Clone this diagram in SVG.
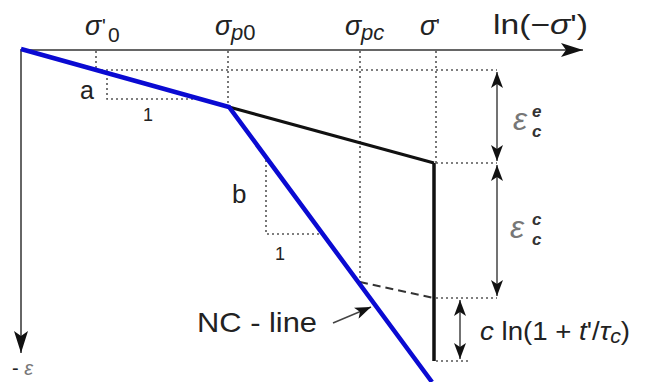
<svg xmlns="http://www.w3.org/2000/svg" width="646" height="382" viewBox="0 0 646 382">
<defs>
<style>
.t{font-family:"Liberation Sans",Arial,sans-serif;fill:#222}
.it{font-style:italic}
.g{fill:#777}
.b{font-weight:bold;fill:#333}
.dot{stroke:#555;stroke-width:1.6;stroke-dasharray:2 3;fill:none}
.ax{stroke:#666;stroke-width:2;fill:none}
.dim{stroke:#444;stroke-width:1.5;fill:none}
</style>
<marker id="ah" viewBox="0 0 16 12" refX="16" refY="6" markerWidth="16" markerHeight="12" markerUnits="userSpaceOnUse" orient="auto-start-reverse">
<path d="M0,0 L16,6 L0,12 L4,6 Z" fill="#111"/>
</marker>
<marker id="axh" viewBox="0 0 22 14" refX="22" refY="7" markerWidth="22" markerHeight="14" markerUnits="userSpaceOnUse" orient="auto">
<path d="M0,0 L22,7 L0,14 L5,7 Z" fill="#111"/>
</marker>
</defs>
<rect width="646" height="382" fill="#fff"/>

<g id="axes">
<line class="ax" x1="20" y1="50" x2="583" y2="50" marker-end="url(#axh)"/>
<line class="ax" x1="21" y1="49" x2="21" y2="353" marker-end="url(#axh)"/>
</g>

<g id="guides">
<line class="dot" x1="96" y1="51" x2="96" y2="70"/>
<line class="dot" x1="228" y1="51" x2="228" y2="107"/>
<line class="dot" x1="360" y1="51" x2="360" y2="282"/>
<line class="dot" x1="436" y1="51" x2="436" y2="163"/>
<line class="dot" x1="96" y1="70" x2="497" y2="70"/>
<line class="dot" x1="436" y1="163" x2="497" y2="163"/>
<line class="dot" x1="436" y1="298" x2="497" y2="298"/>
<line class="dot" x1="436" y1="361" x2="471" y2="361"/>
<polyline class="dot" points="107,73 107,99 200,99"/>
<polyline class="dot" points="266,160 266,234 322,234"/>
</g>

<g id="curves">
<polyline points="229,107 434,163" stroke="#111" stroke-width="3" fill="none"/>
<line x1="434" y1="163" x2="434" y2="361" stroke="#111" stroke-width="3.5"/>
<line x1="360" y1="282" x2="434" y2="298" stroke="#333" stroke-width="2" stroke-dasharray="8 5"/>
<polyline points="21,49 229,107 432,382" stroke="#0a0ad2" stroke-width="4.5" fill="none" stroke-linejoin="miter"/>
</g>

<g id="connectors">
<line class="dim" x1="497" y1="72" x2="497" y2="161" marker-start="url(#ah)" marker-end="url(#ah)"/>
<line class="dim" x1="497" y1="165" x2="497" y2="296" marker-start="url(#ah)" marker-end="url(#ah)"/>
<line class="dim" x1="460" y1="300" x2="460" y2="359" marker-start="url(#ah)" marker-end="url(#ah)"/>
<line class="dim" x1="333" y1="323" x2="371" y2="307" marker-end="url(#ah)"/>
</g>

<g id="labels">
<text class="t it" x="85" y="35" font-size="27">σ<tspan font-style="normal" font-size="20" x="102" y="33">'</tspan><tspan font-style="normal" font-size="21" x="108" y="42">0</tspan></text>
<text class="t it" x="215" y="35" font-size="27">σ<tspan font-size="22" x="231" y="40">p</tspan><tspan font-style="normal" font-size="22">0</tspan></text>
<text class="t it" x="345" y="35" font-size="27">σ<tspan font-size="22" x="361" y="40">pc</tspan></text>
<text class="t it" x="420" y="35" font-size="27">σ<tspan font-style="normal" font-size="20" x="436" y="33">'</tspan></text>
<text class="t" x="493" y="34" font-size="28" textLength="95" lengthAdjust="spacingAndGlyphs">ln(−<tspan class="it">σ</tspan>')</text>
<text class="t" x="80" y="99" font-size="25">a</text>
<text class="t" x="143" y="121" font-size="18">1</text>
<text class="t" x="232" y="203" font-size="26">b</text>
<text class="t" x="275" y="260" font-size="18">1</text>
<text class="t it g" x="513" y="130" font-size="32">ε</text>
<text class="t it b" x="532" y="117" font-size="17">e</text>
<text class="t it b" x="532" y="137" font-size="17">c</text>
<text class="t it g" x="510" y="238" font-size="32">ε</text>
<text class="t it b" x="532" y="225" font-size="17">c</text>
<text class="t it b" x="532" y="245" font-size="17">c</text>
<text class="t" x="480" y="340" font-size="26" textLength="150" lengthAdjust="spacingAndGlyphs"><tspan class="it">c</tspan> ln(1 + <tspan class="it">t</tspan>'/<tspan class="it">τ</tspan><tspan class="it" font-size="20" dy="3">c</tspan><tspan dy="-3">)</tspan></text>
<text class="t" x="197" y="332" font-size="28" textLength="120" lengthAdjust="spacingAndGlyphs">NC - line</text>
<text class="t" x="12" y="375" font-size="20">- <tspan class="it g" font-size="20">ε</tspan></text>
</g>
</svg>
